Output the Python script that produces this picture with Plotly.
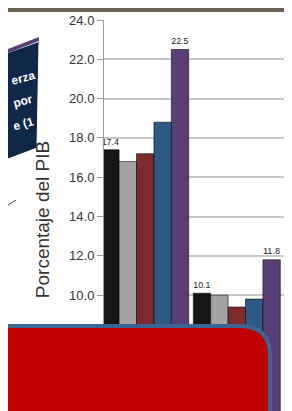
import plotly.graph_objects as go

W, H = 292, 411

groups = [0, 1, 2]
series_names = ["Serie 1", "Serie 2", "Serie 3", "Serie 4", "Serie 5"]
series_colors = ["#161616", "#a3a3a3", "#7e2b2b", "#2c5a85", "#5a3e78"]
values = [
    [17.4, 10.1, 7.6],   # black
    [16.8, 10.0, 6.9],   # gray
    [17.2, 9.4, 6.5],    # red
    [18.8, 9.8, 6.8],    # blue
    [22.5, 11.8, 8.3],   # purple
]
labels = [
    ["17.4", "10.1", "7.6"],
    ["", "", ""],
    ["", "", ""],
    ["", "", ""],
    ["22.5", "11.8", ""],
]
y_ticks = [10, 12, 14, 16, 18, 20, 22, 24]
y_title = "Porcentaje del PIB"
box_text = ["erza", "por", "e (1"]


def px(x):
    return x / W


def py(y):
    return 1 - y / H


fig = go.Figure()
for name, col, vals, labs in zip(series_names, series_colors, values, labels):
    fig.add_trace(go.Bar(
        x=groups, y=vals, name=name, text=labs, textposition="outside",
        cliponaxis=False,
        textfont=dict(family="Liberation Sans, Arial", size=12, color="#222"),
        marker=dict(color=col, line=dict(color="rgba(0,0,0,0.55)", width=1)),
    ))

fig.update_layout(
    width=W, height=H,
    margin=dict(l=0, r=0, t=0, b=0),
    paper_bgcolor="white", plot_bgcolor="white",
    barmode="group", bargap=0.05, bargroupgap=0,
    showlegend=False,
    xaxis=dict(domain=[96 / W, 1], range=[-0.45, 1.69], showticklabels=False,
               showgrid=False, zeroline=False, automargin=False),
    yaxis=dict(domain=[0, 1 - 12 / H], range=[3.7, 24], tickvals=y_ticks,
               tickformat=".1f", showline=True, linecolor="#9a9a9a", linewidth=1,
               ticks="outside", ticklen=6, tickcolor="#9a9a9a",
               gridcolor="#c9c9c9", gridwidth=1.5, zeroline=False, automargin=False,
               tickfont=dict(family="Liberation Sans, Arial", size=13, color="#333"),
               title=dict(text=y_title, standoff=14,
                          font=dict(family="Liberation Sans, Arial", size=19, color="#333"))),
)

shapes = []
# top dark band
shapes.append(dict(type="rect", xref="paper", yref="paper", x0=0, x1=1, y0=py(4), y1=1,
                   fillcolor="#6c6254", line=dict(width=0), layer="above"))
# navy title box on the left (tilted)
navy = [(0, 45), (31, 34), (29, 140), (0, 151)]
path = "M " + " L ".join(f"{px(x)},{py(y)}" for x, y in navy) + " Z"
shapes.append(dict(type="path", xref="paper", yref="paper", path=path,
                   fillcolor="#0f2748", line=dict(width=0), layer="above"))
edge = [(31, 34), (29, 140), (0, 151)]
path = "M " + " L ".join(f"{px(x)},{py(y)}" for x, y in edge)
shapes.append(dict(type="path", xref="paper", yref="paper", path=path,
                   line=dict(color="#ffffff", width=1), layer="above"))
stripe = [(0, 41), (31, 29), (31, 33), (0, 45)]
path = "M " + " L ".join(f"{px(x)},{py(y)}" for x, y in stripe) + " Z"
shapes.append(dict(type="path", xref="paper", yref="paper", path=path,
                   fillcolor="#5a3e78", line=dict(width=0), layer="above"))
# small line fragment
shapes.append(dict(type="line", xref="paper", yref="paper", x0=px(0), y0=py(197),
                   x1=px(8), y1=py(192), line=dict(color="#444", width=1), layer="above"))
# red rounded box: fill, then open border (left side runs off the picture)
r = 30
xr, yt = 262, 318
p = (f"M {px(0)},{py(yt)} L {px(xr - r)},{py(yt)} "
     f"Q {px(xr)},{py(yt)} {px(xr)},{py(yt + r)} "
     f"L {px(xr)},{py(H)} L {px(0)},{py(H)} Z")
shapes.append(dict(type="path", xref="paper", yref="paper", path=p,
                   fillcolor="#c00000", line=dict(width=0), layer="above"))
p = (f"M {px(0)},{py(yt)} L {px(xr - r)},{py(yt)} "
     f"Q {px(xr)},{py(yt)} {px(xr)},{py(yt + r)} "
     f"L {px(xr)},{py(H)}")
shapes.append(dict(type="path", xref="paper", yref="paper", path=p,
                   line=dict(color="#3c6593", width=4), layer="above"))
fig.update_layout(shapes=shapes)

for i, t in enumerate(box_text):
    fig.add_annotation(xref="paper", yref="paper", x=px(15), y=py(70 + 23 * i),
                       text=f"<b>{t}</b>", showarrow=False, textangle=-15,
                       xanchor="center", yanchor="middle",
                       font=dict(family="Liberation Sans, Arial", size=12, color="white"))

fig.write_html("out.html")
